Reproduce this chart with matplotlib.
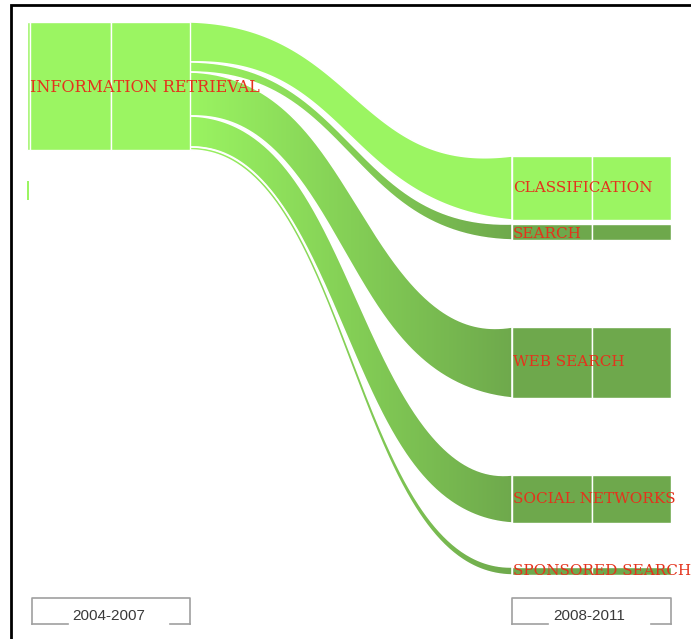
import numpy as np
import matplotlib.pyplot as plt
from matplotlib.path import Path
from matplotlib.patches import PathPatch, Rectangle
from matplotlib.colors import LinearSegmentedColormap

# data
source_name = 'INFORMATION RETRIEVAL'
target_names = ['CLASSIFICATION', 'SEARCH', 'WEB SEARCH', 'SOCIAL NETWORKS', 'SPONSORED SEARCH']
out_width = [40, 10, 44, 31, 3]      # band thickness where it leaves the source
in_width = [64, 16, 71, 48, 8]       # thickness of the target node
target_light = [True, False, False, False, False]
periods = ['2004-2007', '2008-2011']

# layout (pixel-like units, y grows downwards)
src_top = 22
tgt_top = [156, 224, 327, 475, 567]
src_x = (27, 190)
tgt_x = (512, 671)
light = '#9bf562'
dark = '#6ea84c'
red = '#e4321c'

fig = plt.figure(figsize=(6.91, 6.39), dpi=100)
ax = fig.add_axes([0, 0, 1, 1])
ax.set_xlim(0, 691)
ax.set_ylim(639, 0)
ax.axis('off')

cmap_dark = LinearSegmentedColormap.from_list('g', [light, '#84cf56', dark])
grad = np.linspace(0, 1, 256).reshape(1, -1)


def ribbon(x0, y0, w0, x1, y1, w1, n=240):
    # cubic bezier centre line, offset on both sides by half the width
    u = np.linspace(0, 1, n)
    k = 0.5 * (x1 - x0)
    px = np.array([x0, x0 + k, x1 - k, x1])
    py = np.array([y0, y0, y1, y1])
    b = np.array([(1 - u)**3, 3 * u * (1 - u)**2, 3 * u**2 * (1 - u), u**3])
    cx, cy = px @ b, py @ b
    db = np.array([-3 * (1 - u)**2, 3 * (1 - u)**2 - 6 * u * (1 - u),
                   6 * u * (1 - u) - 3 * u**2, 3 * u**2])
    dx, dy = px @ db, py @ db
    norm = np.hypot(dx, dy)
    nx, ny = -dy / norm, dx / norm
    # band gets thinner where it is steep
    w = (w0 + (w1 - w0) * u) * (1 - 0.4 * np.sin(np.pi * u)) / 2
    top = np.column_stack([cx - nx * w, cy - ny * w])
    bot = np.column_stack([cx + nx * w, cy + ny * w])
    return np.concatenate([top, bot[::-1]])


# flows
y0 = src_top
for i, name in enumerate(target_names):
    verts = ribbon(src_x[1], y0 + out_width[i] / 2, out_width[i],
                   tgt_x[0], tgt_top[i] + in_width[i] / 2, in_width[i])
    path = Path(verts)
    if target_light[i]:
        patch = PathPatch(path, facecolor=light, edgecolor='white', lw=1.1, zorder=2)
        ax.add_patch(patch)
    else:
        patch = PathPatch(path, facecolor='none', edgecolor='white', lw=1.1, zorder=3)
        ax.add_patch(patch)
        im = ax.imshow(grad, cmap=cmap_dark, aspect='auto', zorder=2,
                       extent=(src_x[1] - 5, tgt_x[0] + 5, 639, 0), interpolation='bilinear')
        im.set_clip_path(patch)
    y0 += out_width[i]

ax.set_xlim(0, 691)
ax.set_ylim(639, 0)

# source node (split in columns)
src_h = sum(out_width)
for a, b in [(27, 30), (30, 111), (111, 190)]:
    ax.add_patch(Rectangle((a, src_top), b - a, src_h, facecolor=light,
                           edgecolor='white', lw=1, zorder=4))
ax.add_patch(Rectangle((27, 181), 2.5, 19, facecolor=light, lw=0, zorder=4))
ax.text(30, src_top + 66, source_name, color=red, fontsize=11.5, family='DejaVu Serif',
        va='center', ha='left', zorder=6)

# target nodes
for i, name in enumerate(target_names):
    col = light if target_light[i] else dark
    for a, b in [(tgt_x[0], 592), (592, tgt_x[1])]:
        ax.add_patch(Rectangle((a, tgt_top[i]), b - a, in_width[i], facecolor=col,
                               edgecolor='white', lw=1, zorder=4))
    yc = tgt_top[i] + in_width[i] / 2
    if name == 'SEARCH':
        yc += 2
    ax.text(tgt_x[0] + 1, yc, name, color=red, fontsize=11, family='DejaVu Serif',
            va='center', ha='left', zorder=6)

# period boxes at the bottom
for (a, b), label in zip([(32, 190), (512, 671)], periods):
    box_top, box_bot = 598, 624
    ax.plot([a, a, b, b], [box_bot, box_top, box_top, box_bot], color='#a0a0a0', lw=1.2)
    ax.plot([a, a + 36], [box_bot, box_bot], color='#a0a0a0', lw=1.2)
    ax.plot([b - 20, b], [box_bot, box_bot], color='#a0a0a0', lw=1.2)
    ax.text((a + b) / 2 - 2, 616, label, color='#3a3a3a', fontsize=11,
            family='Liberation Sans', ha='center', va='center')

# frame on left and top
ax.plot([11, 11, 691], [639, 5, 5], color='black', lw=2, solid_joinstyle='miter')

fig.savefig('out.png', dpi=100)
